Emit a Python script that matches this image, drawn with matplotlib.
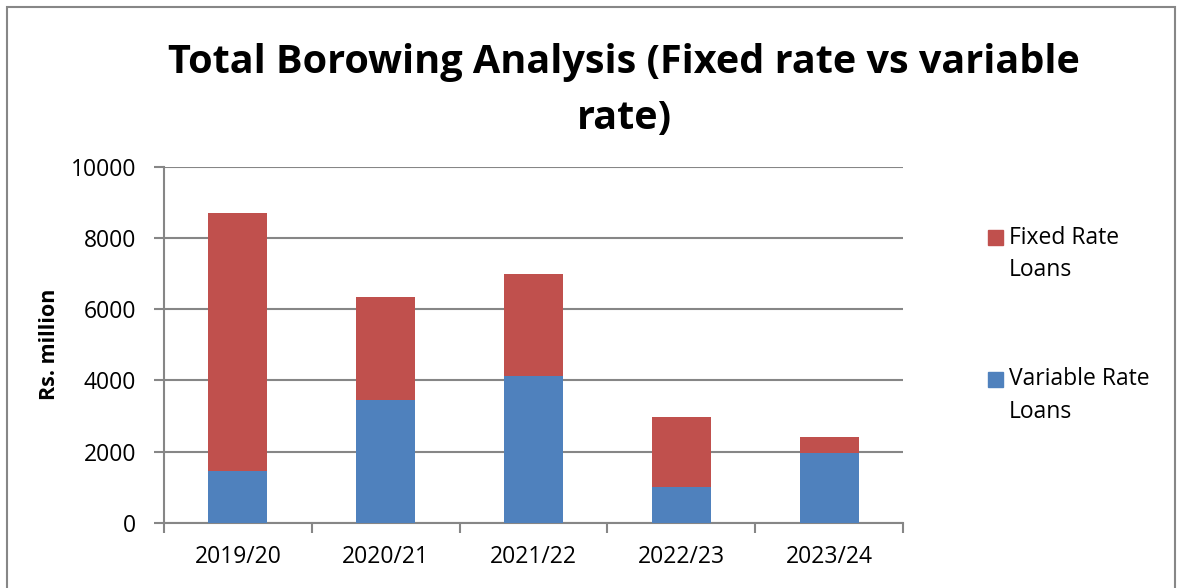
import matplotlib
matplotlib.use("Agg")
import matplotlib.pyplot as plt
from matplotlib.patches import Rectangle
import numpy as np

# Borrowing data (Rs. million)
years = ["2019/20", "2020/21", "2021/22", "2022/23", "2023/24"]
variable_rate = [1450, 3440, 4110, 1000, 1960]
total_borrowing = [8700, 6330, 7000, 2980, 2420]
fixed_rate = [t - v for t, v in zip(total_borrowing, variable_rate)]
y_ticks = [0, 2000, 4000, 6000, 8000, 10000]

BLUE = "#4F81BD"
RED = "#C0504D"
GRID = "#868686"

plt.rcParams["font.family"] = ["Open Sans", "DejaVu Sans"]

W, H = 1179, 588
fig = plt.figure(figsize=(W / 100, H / 100), dpi=100)
ax = fig.add_axes([164 / W, 1 - 522.7 / H, (903 - 164) / W, (522.7 - 166.7) / H])

x = np.arange(len(years))
ax.bar(x, variable_rate, width=0.4, color=BLUE, zorder=3)
ax.bar(x, fixed_rate, width=0.4, bottom=variable_rate, color=RED, zorder=3)

ax.set_xlim(-0.5, len(years) - 0.5)
ax.set_ylim(0, 10000)
ax.set_yticks(y_ticks)
ax.set_yticklabels([str(v) for v in y_ticks], fontsize=16.5)
ax.yaxis.grid(True, color=GRID, linewidth=1.5, zorder=0)
ax.tick_params(axis="y", length=7, width=1.5, color=GRID, pad=13)

ax.set_xticks(x)
ax.set_xticklabels(years, fontsize=16.5)
ax.tick_params(axis="x", length=0, pad=16)
ax.set_xticks(np.arange(len(years) + 1) - 0.5, minor=True)
ax.tick_params(axis="x", which="minor", length=7, width=1.5, color=GRID)

for side in ("top", "right"):
    ax.spines[side].set_visible(False)
for side in ("left", "bottom"):
    ax.spines[side].set_color(GRID)
    ax.spines[side].set_linewidth(1.5)

ax.set_ylabel("Rs. million", fontsize=15.5, fontweight="bold", labelpad=8)

fig.text(624 / W, 1 - 62 / H, "Total Borowing Analysis (Fixed rate vs variable",
         ha="center", va="center", fontsize=28.5, fontweight="bold")
fig.text(624 / W, 1 - 119 / H, "rate)",
         ha="center", va="center", fontsize=28.5, fontweight="bold")

# Legend drawn beside the plot area
legend_items = [(RED, "Fixed Rate", "Loans", 237.5), (BLUE, "Variable Rate", "Loans", 379)]
for color, l1, l2, yc in legend_items:
    fig.patches.append(Rectangle((988 / W, 1 - (yc + 7.5) / H), 15 / W, 15 / H,
                                 transform=fig.transFigure, color=color))
    fig.text(1009 / W, 1 - yc / H, l1, ha="left", va="center", fontsize=16.5)
    fig.text(1009 / W, 1 - (yc + 33) / H, l2, ha="left", va="center", fontsize=16.5)

# Outer chart frame
fig.patches.append(Rectangle((7 / W, -0.02), (1175 - 7) / W, 1 - 7 / H + 0.02,
                             transform=fig.transFigure, fill=False,
                             edgecolor="#878787", linewidth=1.5))

fig.savefig("out.png", dpi=100)
